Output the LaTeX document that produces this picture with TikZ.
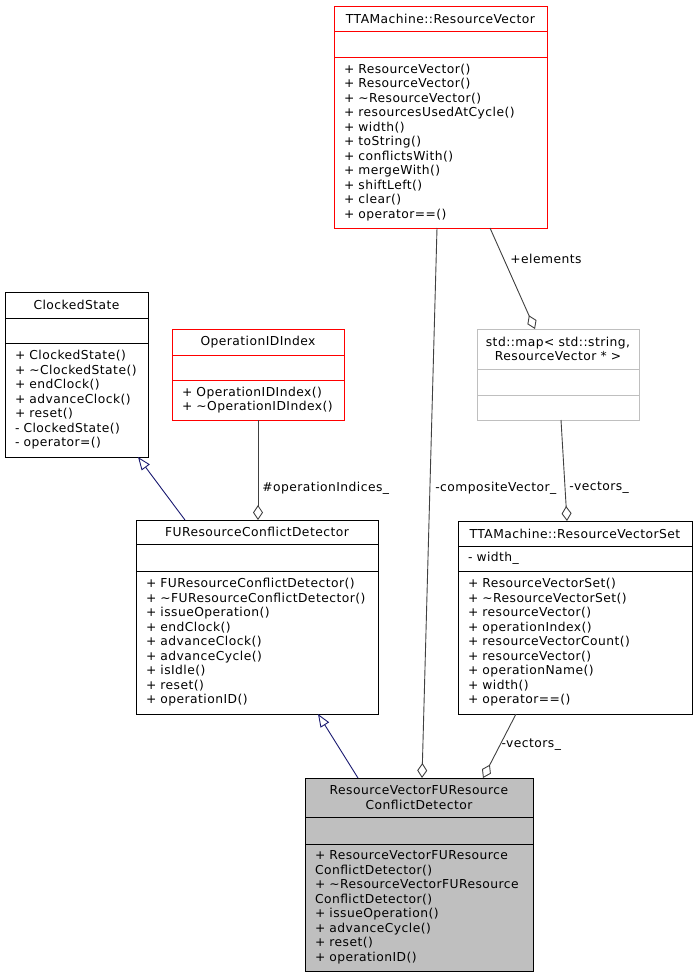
\documentclass[tikz,border=0pt]{standalone}
\usepackage{fontspec}
\setmainfont[LetterSpace=3.7]{DejaVu Sans}
\usetikzlibrary{arrows.meta, positioning}

\definecolor{edgegray}{HTML}{404040}
\definecolor{inhblue}{HTML}{191970}
\definecolor{boxred}{HTML}{FF0000}
\definecolor{boxgray}{HTML}{BFBFBF}
\definecolor{mainfill}{HTML}{BFBFBF}

\newcommand{\umlfont}{\fontsize{12.3}{14.5}\selectfont}
\newcommand{\dtor}{\textasciitilde}

\begin{document}
\begin{tikzpicture}[
    x=1pt, y=-1pt,
    % Class box parts
    classpart/.style={
        rectangle,
        draw=black,
        line width=0.9pt,
        inner xsep=10pt,
        inner ysep=0pt,
        outer sep=0pt,
        font=\umlfont,
        anchor=north west
    },
    titlepart/.style={classpart, align=center},
    bodypart/.style={classpart, align=left},
    redbox/.style={draw=boxred},
    graybox/.style={draw=boxgray},
    mainbox/.style={fill=mainfill},
    % Connector styles
    aggr/.style={
        -{Diamond[open, length=15pt, width=10pt]},
        edgegray,
        line width=0.9pt
    },
    inherit/.style={
        -{Triangle[open, length=13pt, width=10pt]},
        inhblue,
        line width=0.9pt
    },
    edgelabel/.style={font=\umlfont, text=black, anchor=west, inner sep=0pt}
]
\useasboundingbox (0,0) rectangle (697,977);

% === TTAMachine::ResourceVector (top) ===
\node[titlepart, redbox, text width=193pt, minimum height=25pt] (rv) at (334,6)
    {TTAMachine::ResourceVector};
\node[bodypart, redbox, text width=193pt, minimum height=26pt, below=0pt of rv] (rv-a) {};
\node[bodypart, redbox, text width=193pt, minimum height=171pt, below=0pt of rv-a] (rv-m) {
    + ResourceVector()\\
    + ResourceVector()\\
    + \dtor ResourceVector()\\
    + resourcesUsedAtCycle()\\
    + width()\\
    + toString()\\
    + conflictsWith()\\
    + mergeWith()\\
    + shiftLeft()\\
    + clear()\\
    + operator==()
};

% === ClockedState (left) ===
\node[titlepart, text width=123pt, minimum height=26pt] (cs) at (5,292) {ClockedState};
\node[bodypart, text width=123pt, minimum height=25pt, below=0pt of cs] (cs-a) {};
\node[bodypart, text width=123pt, minimum height=114pt, below=0pt of cs-a] (cs-m) {
    + ClockedState()\\
    + \dtor ClockedState()\\
    + endClock()\\
    + advanceClock()\\
    + reset()\\
    - ClockedState()\\
    - operator=()
};

% === OperationIDIndex ===
\node[titlepart, redbox, text width=152pt, minimum height=26pt] (oi) at (172,329) {OperationIDIndex};
\node[bodypart, redbox, text width=152pt, minimum height=25pt, below=0pt of oi] (oi-a) {};
\node[bodypart, redbox, text width=152pt, minimum height=40pt, below=0pt of oi-a] (oi-m) {
    + OperationIDIndex()\\
    + \dtor OperationIDIndex()
};

% === std::map ===
\node[titlepart, graybox, inner xsep=4pt, text width=154pt, minimum height=40pt] (map) at (477,329)
    {std::map< std::string,\\ ResourceVector * >};
\node[bodypart, graybox, text width=142pt, minimum height=26pt, below=0pt of map] (map-a) {};
\node[bodypart, graybox, text width=142pt, minimum height=25pt, below=0pt of map-a] (map-m) {};

% === FUResourceConflictDetector ===
\node[titlepart, text width=222pt, minimum height=24pt] (fu) at (136,520) {FUResourceConflictDetector};
\node[bodypart, text width=222pt, minimum height=27pt, below=0pt of fu] (fu-a) {};
\node[bodypart, text width=222pt, minimum height=143pt, below=0pt of fu-a] (fu-m) {
    + FUResourceConflictDetector()\\
    + \dtor FUResourceConflictDetector()\\
    + issueOperation()\\
    + endClock()\\
    + advanceClock()\\
    + advanceCycle()\\
    + isIdle()\\
    + reset()\\
    + operationID()
};

% === TTAMachine::ResourceVectorSet ===
\node[titlepart, text width=214pt, minimum height=25pt] (rvs) at (458,521) {TTAMachine::ResourceVectorSet};
\node[bodypart, text width=214pt, minimum height=25pt, below=0pt of rvs] (rvs-a) {- width\_};
\node[bodypart, text width=214pt, minimum height=143pt, below=0pt of rvs-a] (rvs-m) {
    + ResourceVectorSet()\\
    + \dtor ResourceVectorSet()\\
    + resourceVector()\\
    + operationIndex()\\
    + resourceVectorCount()\\
    + resourceVector()\\
    + operationName()\\
    + width()\\
    + operator==()
};

% === ResourceVectorFUResourceConflictDetector (bottom) ===
\node[titlepart, mainbox, text width=208pt, minimum height=39pt] (rvfu) at (305,778)
    {ResourceVectorFUResource\\ConflictDetector};
\node[bodypart, mainbox, text width=208pt, minimum height=27pt, below=0pt of rvfu] (rvfu-a) {};
\node[bodypart, mainbox, text width=208pt, minimum height=127pt, below=0pt of rvfu-a] (rvfu-m) {
    + ResourceVectorFUResource\\
    ConflictDetector()\\
    + \dtor ResourceVectorFUResource\\
    ConflictDetector()\\
    + issueOperation()\\
    + advanceCycle()\\
    + reset()\\
    + operationID()
};

% === Inheritance ===
\draw[inherit] ([xshift=49pt]fu.north west) -- ([xshift=-10pt]cs-m.south east);
\draw[inherit] ([xshift=53pt]rvfu.north west) -- ([xshift=182pt]fu-m.south west);

% === Aggregation ===
\draw[aggr] (oi-m.south) -- ([xshift=122pt]fu.north west)
    node[edgelabel, pos=0.68, xshift=4pt] {\#operationIndices\_};
\draw[aggr] ([xshift=103pt]rv-m.south west) -- ([xshift=117pt]rvfu.north west)
    node[edgelabel, pos=0.473, xshift=5pt] {-compositeVector\_};
\draw[aggr] ([xshift=156pt]rv-m.south west) -- ([xshift=58pt]map.north west)
    node[edgelabel, pos=0.31, xshift=6pt] {+elements};
\draw[aggr] ([xshift=84pt]map-m.south west) -- ([xshift=109pt]rvs.north west)
    node[edgelabel, pos=0.67, xshift=4pt] {-vectors\_};
\draw[aggr] ([xshift=58pt]rvs-m.south west) -- ([xshift=178pt]rvfu.north west)
    node[edgelabel, pos=0.48, xshift=1pt] {-vectors\_};

\end{tikzpicture}
\end{document}
